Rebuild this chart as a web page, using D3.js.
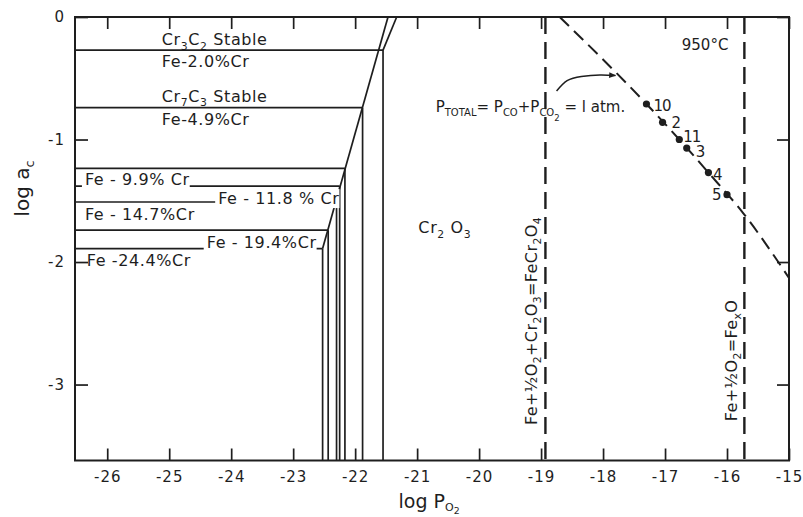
<!DOCTYPE html>
<html><head><meta charset="utf-8">
<script src="https://cdn.jsdelivr.net/npm/d3@7"></script>
<style>
html,body{margin:0;padding:0;background:#fff;}
svg{display:block;}
text{font-family:"DejaVu Sans",sans-serif;fill:#1e1e1e;}
</style></head><body>
<svg id="chart" width="803" height="517"></svg>
<script>
// axis ticks (log P_O2 horizontally, log a_c vertically)
const xTicks = [-26,-25,-24,-23,-22,-21,-20,-19,-18,-17,-16,-15];
const yTicks = [0,-1,-2,-3];

// Fe–Cr alloys: carbide-formation level (log a_c) and oxide-formation level (log P_O2)
const alloyNames  = ["Fe-2.0%Cr","Fe-4.9%Cr","Fe-9.9% Cr","Fe-11.8% Cr","Fe-14.7%Cr","Fe-19.4%Cr","Fe-24.4%Cr"];
const alloyLogAc  = [-0.27,-0.74,-1.235,-1.38,-1.51,-1.74,-1.89];
const alloyLogPO2 = [-21.55,-21.88,-22.165,-22.25,-22.30,-22.435,-22.525];

// carbide / Cr2O3 boundaries [log P_O2, log a_c]
const cr7c3Boundary = [[-21.47,0],[-22.525,-1.89]];
const cr3c2Boundary = [[-21.33,0],[-21.55,-0.27]];

// iron oxidation equilibria (log P_O2)
const feCr2O4PO2 = -18.93;
const feOPO2 = -15.72;

// gas line for P_CO + P_CO2 = 1 atm
const gasPO2 = [-18.70,-17.30,-16.77,-16.30,-15.74,-15.0];
const gasAc  = [0,-0.71,-1.00,-1.27,-1.60,-2.13];

// experimental runs
const runLabels = ["10","2","11","3","4","5"];
const runPO2 = [-17.30,-17.04,-16.77,-16.65,-16.30,-16.00];
const runAc  = [-0.71,-0.86,-1.00,-1.07,-1.27,-1.45];

const W = 803, H = 517;
const svg = d3.select("#chart");
const ink = "#1e1e1e";

const x = d3.scaleLinear().domain([-26.52,-15]).range([75,789]);
const y = d3.scaleLinear().domain([0,-3.62]).range([17,460.5]);

svg.append("rect").attr("width",W).attr("height",H).attr("fill","#fff");

const plot = svg.append("g");

// text with subscripts: "_x" → subscript char, "_{..}" → subscript group, "__x" → second-level subscript
function parseRich(str){
  const segs = []; let i = 0, buf = "";
  const flush = () => { if (buf) { segs.push({t:buf, lvl:0}); buf = ""; } };
  while (i < str.length){
    if (str[i] === "_"){
      flush();
      let lvl = 1; i++;
      if (str[i] === "_"){ lvl = 2; i++; }
      if (str[i] === "{"){
        const j = str.indexOf("}", i);
        segs.push({t:str.slice(i+1,j), lvl}); i = j+1;
      } else { segs.push({t:str[i], lvl}); i++; }
    } else { buf += str[i]; i++; }
  }
  flush();
  return segs;
}
function richText(parent, str, size, opts={}){
  const sub = opts.sub || size*0.68, shift = opts.shift || size*0.28;
  const t = parent.append("text").attr("font-size",size);
  if (opts.spacing != null) t.attr("letter-spacing", opts.spacing);
  let cur = 0;
  parseRich(str).forEach(s => {
    const target = s.lvl*shift;
    t.append("tspan").attr("dy", target-cur)
      .attr("font-size", s.lvl ? (s.lvl===2 ? sub*0.85 : sub) : size).text(s.t);
    cur = target;
  });
  return t;
}

// alloy carbide (horizontal) and oxide (vertical) lines
const lines = plot.append("g").attr("stroke",ink).attr("stroke-width",1.7).attr("fill","none");
alloyNames.forEach((n,i) => {
  lines.append("line").attr("x1",x.range()[0]).attr("x2",x(alloyLogPO2[i]))
    .attr("y1",y(alloyLogAc[i])).attr("y2",y(alloyLogAc[i]));
  lines.append("line").attr("x1",x(alloyLogPO2[i])).attr("x2",x(alloyLogPO2[i]))
    .attr("y1",y(alloyLogAc[i])).attr("y2",y.range()[1]);
});
const seg = d3.line().x(d=>x(d[0])).y(d=>y(d[1]));
lines.append("path").attr("d",seg(cr7c3Boundary));
lines.append("path").attr("d",seg(cr3c2Boundary));

// dashed iron-oxidation lines
[feCr2O4PO2, feOPO2].forEach(v => {
  plot.append("line").attr("x1",x(v)).attr("x2",x(v)).attr("y1",y.range()[0]).attr("y2",y.range()[1])
    .attr("stroke",ink).attr("stroke-width",2.4).attr("stroke-dasharray","17,8");
});

// dashed gas line
const gasPts = gasPO2.map((v,i)=>[v,gasAc[i]]);
plot.append("path").attr("d", d3.line().x(d=>x(d[0])).y(d=>y(d[1])).curve(d3.curveMonotoneX)(gasPts))
  .attr("fill","none").attr("stroke",ink).attr("stroke-width",2).attr("stroke-dasharray","13,7");

// region and alloy labels: [text, log P_O2, log a_c, knockout]
const labelLayer = plot.append("g");
const regionLabels = [
  ["Cr_3C_2  Stable", -25.12, -0.229, false],
  ["Fe-2.0%Cr",       -25.12, -0.406, false],
  ["Cr_7C_3 Stable",  -25.12, -0.691, false],
  ["Fe-4.9%Cr",       -25.12, -0.882, false],
  ["Fe - 9.9% Cr",    -26.36, -1.371, true],
  ["Fe - 11.8 % Cr",  -24.21, -1.527, true],
  ["Fe - 14.7%Cr",    -26.36, -1.657, false],
  ["Fe - 19.4%Cr",    -24.395,-1.888, true],
  ["Fe -24.4%Cr",     -26.33, -2.033, false],
  ["Cr_2 O_3",        -20.98, -1.766, false]
];
regionLabels.forEach(([s,px,py,ko]) => {
  const g = labelLayer.append("g").attr("transform",`translate(${x(px)},${y(py)})`);
  const t = richText(g, s, 16, {spacing:0.6});
  if (ko){
    const b = t.node().getBBox();
    g.insert("rect","text").attr("x",b.x-3).attr("y",b.y).attr("width",b.width+3).attr("height",b.height)
      .attr("fill","#fff");
  }
});
labelLayer.append("text").attr("x",x(-16.73)).attr("y",y(-0.269)).attr("font-size",15).text("950°C");

// gas-line annotation with arrow
const ann = labelLayer.append("g").attr("transform",`translate(${x(-20.70)},${y(-0.773)})`);
richText(ann, "P_{TOTAL}= P_{CO}+P_{CO}__2 = l atm.", 15, {sub:10, shift:4.5});
svg.append("defs").append("marker").attr("id","ah").attr("viewBox","0 0 10 10")
  .attr("refX",9).attr("refY",5).attr("markerWidth",9).attr("markerHeight",7).attr("orient","auto")
  .attr("markerUnits","userSpaceOnUse")
  .append("path").attr("d","M0,1 L10,5 L0,9 Z").attr("fill",ink);
const arrowPts = [[-18.75,-0.604],[-18.58,-0.52],[-18.35,-0.485],[-18.05,-0.473],[-17.80,-0.478]];
plot.append("path").attr("d", d3.line().x(d=>x(d[0])).y(d=>y(d[1])).curve(d3.curveNatural)(arrowPts))
  .attr("fill","none").attr("stroke",ink).attr("stroke-width",1.5).attr("marker-end","url(#ah)");

// rotated equilibrium labels
[["Fe+½O_2+Cr_2O_3=FeCr_2O_4", -19.07, -3.33],["Fe+½O_2=Fe_xO", -15.84, -3.30]].forEach(([s,px,py]) => {
  const g = labelLayer.append("g").attr("transform",`translate(${x(px)},${y(py)}) rotate(-90)`);
  richText(g, s, 16, {spacing:0.4});
});

// run points and numbers
const offs = [[7,7.5,"start"],[9,5.8,"start"],[4,2,"start"],[9,8.5,"start"],[4.5,7.3,"start"],[-5.5,5.7,"end"]];
runLabels.forEach((l,i) => {
  plot.append("circle").attr("cx",x(runPO2[i])).attr("cy",y(runAc[i])).attr("r",3.6).attr("fill",ink);
  plot.append("text").attr("x",x(runPO2[i])+offs[i][0]).attr("y",y(runAc[i])+offs[i][1])
    .attr("text-anchor",offs[i][2]).attr("font-size",15)
    .attr("letter-spacing", l.length > 1 ? -1 : 0).text(l);
});

// frame and inward ticks on all four sides
const axes = svg.append("g");
const styleAxis = g => {
  g.select(".domain").remove();
  g.selectAll(".tick line").attr("stroke",ink).attr("stroke-width",1.7);
  g.selectAll(".tick text").attr("fill",ink).attr("font-size",15).attr("letter-spacing",1)
    .attr("font-family","DejaVu Sans, sans-serif");
};
const fmt = d => String(d);
axes.append("g").attr("transform",`translate(0,${y.range()[1]})`)
  .call(d3.axisBottom(x).tickValues(xTicks).tickSize(-12).tickPadding(11).tickFormat(fmt)).call(styleAxis);
axes.append("g").attr("transform",`translate(0,${y.range()[0]})`)
  .call(d3.axisTop(x).tickValues(xTicks).tickSize(-12).tickFormat("")).call(styleAxis);
axes.append("g").attr("transform",`translate(${x.range()[0]},0)`)
  .call(d3.axisLeft(y).tickValues(yTicks).tickSize(-13).tickPadding(10).tickFormat(fmt)).call(styleAxis);
axes.append("g").attr("transform",`translate(${x.range()[1]},0)`)
  .call(d3.axisRight(y).tickValues(yTicks).tickSize(-12).tickFormat("")).call(styleAxis);
axes.append("rect").attr("x",x.range()[0]).attr("y",y.range()[0])
  .attr("width",x.range()[1]-x.range()[0]).attr("height",y.range()[1]-y.range()[0])
  .attr("fill","none").attr("stroke",ink).attr("stroke-width",2);

// axis titles
const xt = svg.append("g").attr("transform",`translate(${x(-21.30)},${y.range()[1]+47.5})`);
richText(xt, "log P_O__2", 19, {sub:11, shift:3});
const yt = svg.append("g").attr("transform",`translate(29,${y(-1.4)}) rotate(-90)`);
richText(yt, "log a_c", 20, {sub:13, shift:5}).attr("text-anchor","middle");
</script>
</body></html>
